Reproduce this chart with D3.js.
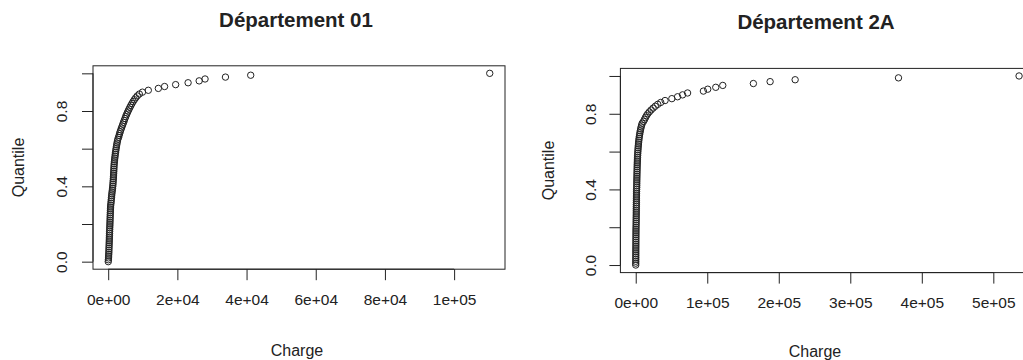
<!DOCTYPE html>
<html>
<head>
<meta charset="utf-8">
<script src="https://cdn.jsdelivr.net/npm/d3@7"></script>
<style>
  html, body { margin: 0; padding: 0; background: #fff; }
  svg { display: block; }
  text { font-family: "Liberation Sans", Arial, sans-serif; fill: #222; }
</style>
</head>
<body>
<svg id="chart" width="1023" height="360"></svg>
<script>
// Quantile levels shared by both panels
const probs = [
  0.00,0.01,0.02,0.03,0.04,0.05,0.06,0.07,0.08,0.09,
  0.10,0.11,0.12,0.13,0.14,0.15,0.16,0.17,0.18,0.19,
  0.20,0.21,0.22,0.23,0.24,0.25,0.26,0.27,0.28,0.29,
  0.30,0.31,0.32,0.33,0.34,0.35,0.36,0.37,0.38,0.39,
  0.40,0.41,0.42,0.43,0.44,0.45,0.46,0.47,0.48,0.49,
  0.50,0.51,0.52,0.53,0.54,0.55,0.56,0.57,0.58,0.59,
  0.60,0.61,0.62,0.63,0.64,0.65,0.66,0.67,0.68,0.69,
  0.70,0.71,0.72,0.73,0.74,0.75,0.76,0.77,0.78,0.79,
  0.80,0.81,0.82,0.83,0.84,0.85,0.86,0.87,0.88,0.89,
  0.90,0.91,0.92,0.93,0.94,0.95,0.96,0.97,0.98,0.99,
  1.00
];

// Charge at each quantile, Département 01
const charge01 = [
  20,60,100,130,160,190,210,230,250,270,
  290,310,330,350,370,390,410,430,450,480,
  500,520,540,560,580,600,620,640,660,690,
  720,800,850,900,950,1000,1060,1120,1200,1260,
  1320,1370,1410,1450,1490,1520,1550,1580,1610,1640,
  1670,1700,1740,1790,1850,1910,1980,2050,2120,2200,
  2280,2370,2460,2560,2670,2790,3000,3150,3300,3470,
  3650,3850,4050,4250,4450,4650,4850,5050,5280,5520,
  5770,6030,6300,6580,6880,7200,7550,7950,8400,9000,
  9900,11600,14500,16300,19500,23100,26300,28000,33900,41200,
  110300
];

// Charge at each quantile, Département 2A
const charge2A = [
  0,15,40,55,80,95,120,140,150,175,
  200,210,240,255,280,300,315,340,360,390,
  420,500,540,580,610,650,680,720,750,790,
  820,860,890,930,960,1000,1040,1080,1120,1170,
  1210,1350,1400,1450,1500,1560,1620,1680,1740,1800,
  1870,1940,2010,2090,2180,2280,2390,2510,2650,2800,
  2960,3140,3340,3560,3800,4060,4350,4680,5050,5450,
  5900,6400,6950,7550,8250,9050,11000,12300,13600,15000,
  16800,19000,21500,24300,27400,30800,35000,41000,50500,58500,
  65500,72500,94600,100700,111900,121700,164500,187900,222900,367400,
  536000
];

const xTicks01 = [0, 20000, 40000, 60000, 80000, 100000];
const xLabels01 = ["0e+00","2e+04","4e+04","6e+04","8e+04","1e+05"];
const xTicks2A = [0, 100000, 200000, 300000, 400000, 500000];
const xLabels2A = ["0e+00","1e+05","2e+05","3e+05","4e+05","5e+05"];
const yTicks = [0, 0.2, 0.4, 0.6, 0.8, 1.0];
const yLabels = ["0.0", "", "0.4", "", "0.8", ""];

const panels = [
  { title: "Département 01", values: charge01, xTicks: xTicks01, xLabels: xLabels01,
    box: { x0: 93, x1: 505, y0: 65.8, y1: 269.2 },
    titleX: 296, titleY: 27, xTitleX: 297, xTitleY: 356, yTitleX: 24, yLabX: 61, xLabY: 305 },
  { title: "Département 2A", values: charge2A, xTicks: xTicks2A, xLabels: xLabels2A,
    box: { x0: 620.4, x1: 1034.4, y0: 68.4, y1: 272.6 },
    titleX: 816, titleY: 29, xTitleX: 815, xTitleY: 357, yTitleX: 554, yLabX: 590, xLabY: 308 }
];

const svg = d3.select("#chart");
const ink = "#222";

panels.forEach(p => {
  const g = svg.append("g");
  const maxV = d3.max(p.values), minV = d3.min(p.values);
  const padX = (maxV - minV) * 0.04;
  const x = d3.scaleLinear().domain([minV - padX, maxV + padX]).range([p.box.x0, p.box.x1]);
  const y = d3.scaleLinear().domain([-0.04, 1.04]).range([p.box.y1, p.box.y0]);

  // plot frame
  g.append("rect")
    .attr("x", p.box.x0).attr("y", p.box.y0)
    .attr("width", p.box.x1 - p.box.x0).attr("height", p.box.y1 - p.box.y0)
    .attr("fill", "none").attr("stroke", ink).attr("stroke-width", 1);

  // bottom axis
  const xAxis = d3.axisBottom(x).tickValues(p.xTicks)
    .tickFormat((d, i) => p.xLabels[i]).tickSizeOuter(0).tickSizeInner(11).tickPadding(0);
  const gx = g.append("g").attr("transform", `translate(0,${p.box.y1})`).call(xAxis);
  gx.select(".domain").attr("stroke", ink)
    .attr("d", `M${x(p.xTicks[0])},0H${x(p.xTicks[p.xTicks.length - 1])}`);
  gx.selectAll(".tick line").attr("stroke", ink);
  gx.selectAll(".tick text").attr("y", p.xLabY - p.box.y1).attr("dy", 0)
    .style("font-size", "15.5px").attr("fill", ink);

  // left axis
  const yAxis = d3.axisLeft(y).tickValues(yTicks)
    .tickFormat((d, i) => yLabels[i]).tickSizeOuter(0).tickSizeInner(11);
  const gy = g.append("g").attr("transform", `translate(${p.box.x0},0)`).call(yAxis);
  gy.select(".domain").attr("stroke", ink)
    .attr("d", `M0,${y(0)}V${y(1)}`);
  gy.selectAll(".tick line").attr("stroke", ink);
  gy.selectAll(".tick text")
    .attr("x", 0).attr("dy", 0)
    .attr("transform", `translate(${p.yLabX - p.box.x0},0) rotate(-90)`)
    .attr("text-anchor", "middle")
    .attr("dominant-baseline", "central")
    .style("font-size", "15.5px").attr("fill", ink);

  // points
  g.append("g").selectAll("circle")
    .data(p.values.map((v, i) => [v, probs[i]]))
    .join("circle")
    .attr("cx", d => x(d[0])).attr("cy", d => y(d[1]))
    .attr("r", 3.2)
    .attr("fill", "none").attr("stroke", ink).attr("stroke-width", 1);

  // titles
  svg.append("text").attr("x", p.titleX).attr("y", p.titleY)
    .attr("text-anchor", "middle").style("font-size", "20.5px").style("font-weight", "bold")
    .text(p.title);
  svg.append("text").attr("x", p.xTitleX).attr("y", p.xTitleY)
    .attr("text-anchor", "middle").style("font-size", "16px").text("Charge");
  svg.append("text")
    .attr("transform", `translate(${p.yTitleX},${(p.box.y0 + p.box.y1) / 2}) rotate(-90)`)
    .attr("text-anchor", "middle").style("font-size", "16px").text("Quantile");
});
</script>
</body>
</html>
